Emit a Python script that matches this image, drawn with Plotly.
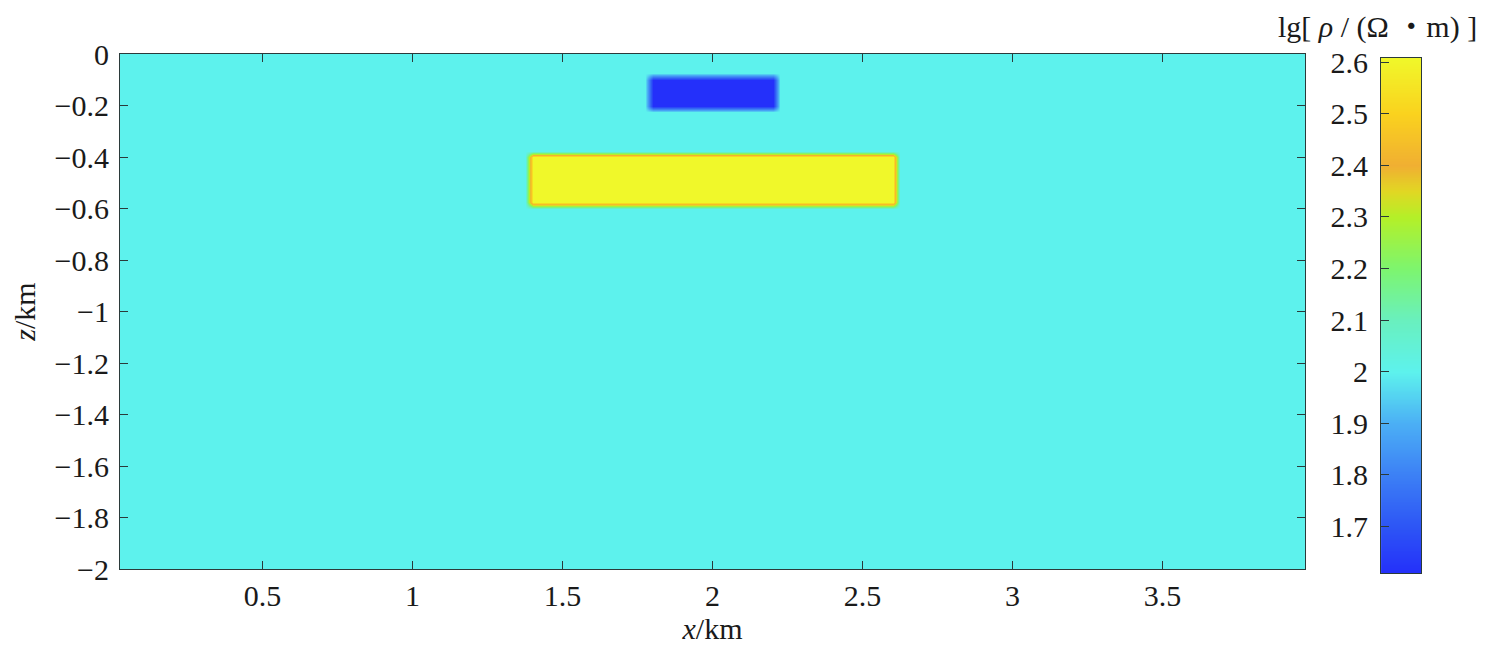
"""Resistivity model section: lg(rho) cross-section with two rectangular anomalies."""

import numpy as np
import plotly.graph_objects as go

# model grid (km)
x_nodes = np.round(np.arange(0.025, 3.9751, 0.025), 4)
z_nodes = np.round(np.arange(0.0, -2.0001, -0.025), 4)

# background and anomalies, lg(rho / ohm m)
background_lg_rho = 2.0
anomaly_names = ["low-resistivity block", "high-resistivity block"]
anomaly_x_left = [1.8, 1.4]
anomaly_x_right = [2.2, 2.6]
anomaly_z_top = [-0.1, -0.4]
anomaly_z_bottom = [-0.2, -0.575]
anomaly_lg_rho = [1.61, 2.61]

# colour scale range and ticks
cmin, cmax = 1.61, 2.61
colorbar_ticks = [1.7, 1.8, 1.9, 2.0, 2.1, 2.2, 2.3, 2.4, 2.5, 2.6]
x_ticks = [0.5, 1, 1.5, 2, 2.5, 3, 3.5]
z_ticks = [0, -0.2, -0.4, -0.6, -0.8, -1, -1.2, -1.4, -1.6, -1.8, -2]

# colour scale sampled from the figure's colour bar (value, colour)
cmap_values = [1.61, 1.70, 1.80, 1.90, 2.00, 2.10, 2.20, 2.30, 2.35, 2.40, 2.50, 2.61]
cmap_colors = [
    "rgb(36,48,250)", "rgb(45,85,245)", "rgb(60,128,245)", "rgb(75,175,245)",
    "rgb(93,242,237)", "rgb(105,240,190)", "rgb(125,245,110)", "rgb(180,240,40)",
    "rgb(225,215,35)", "rgb(240,175,50)", "rgb(250,210,30)", "rgb(240,248,42)",
]
colorscale = [[(v - cmin) / (cmax - cmin), c] for v, c in zip(cmap_values, cmap_colors)]

# build the model grid
XX, ZZ = np.meshgrid(x_nodes, z_nodes)
model = np.full(XX.shape, background_lg_rho)
eps = 1e-6
for x0, x1, zt, zb, val in zip(anomaly_x_left, anomaly_x_right, anomaly_z_top,
                                anomaly_z_bottom, anomaly_lg_rho):
    inside = (XX >= x0 - eps) & (XX <= x1 + eps) & (ZZ <= zt + eps) & (ZZ >= zb - eps)
    model[inside] = val

# colour-bar strip drawn on its own axis so its labels sit on the left
cb_levels = np.linspace(cmin, cmax, 201)

SERIF = "Liberation Serif"
CJK = "Noto Sans CJK SC"
DARK = "#2b3a3a"
FS = 30

fig = go.Figure()
fig.add_trace(go.Heatmap(
    x=x_nodes, y=z_nodes, z=model, zsmooth="best",
    colorscale=colorscale, zmin=cmin, zmax=cmax, showscale=False,
    xaxis="x", yaxis="y",
))
fig.add_trace(go.Heatmap(
    x=[0, 1], y=cb_levels, z=np.column_stack([cb_levels, cb_levels]), zsmooth="best",
    colorscale=colorscale, zmin=cmin, zmax=cmax, showscale=False,
    xaxis="x2", yaxis="y2", hoverinfo="skip",
))

axis_common = dict(
    showline=True, linecolor=DARK, linewidth=1.2, showgrid=False, zeroline=False,
    ticks="inside", tickcolor=DARK, ticklen=8, tickwidth=1.2, automargin=False,
    tickfont=dict(family=SERIF, size=FS, color="#1a1a1a"),
)

# the page body adds an 8 px margin, so the figure is 8 px smaller each way
fig.update_layout(
    width=1492, height=644,
    paper_bgcolor="white", plot_bgcolor="white",
    margin=dict(l=112, r=79, t=46, b=79),
    font=dict(family=SERIF, color="#1a1a1a"),
    xaxis=dict(
        **axis_common, domain=[0, 0.9109], range=[0.025, 3.975], mirror="ticks",
        tickvals=x_ticks, ticktext=[f"{v:g}" for v in x_ticks],
        title=dict(text="<i>x</i>/km", font=dict(family=SERIF, size=FS), standoff=4),
    ),
    yaxis=dict(
        **axis_common, domain=[0.0077, 1], range=[-2, 0], mirror="ticks",
        tickvals=z_ticks, ticktext=[f"{v:g}".replace("-", "\u2212") for v in z_ticks],
        title=dict(text="<i>z</i>/km", font=dict(family=SERIF, size=FS), standoff=24),
        ticklabelstandoff=4,
    ),
    xaxis2=dict(
        domain=[0.9693, 1], range=[0, 1], anchor="y2", automargin=False,
        showline=True, linecolor=DARK, linewidth=1.2, mirror=True,
        showticklabels=False, ticks="", showgrid=False, zeroline=False,
    ),
    yaxis2=dict(
        **axis_common, domain=[0, 0.9923], range=[cmin, cmin + (cmax - cmin) * 0.998],
        anchor="x2", side="left", mirror=True,
        tickvals=colorbar_ticks, ticktext=[f"{v:g}" for v in colorbar_ticks],
        ticklabelstandoff=6,
    ),
    annotations=[dict(
        text=("lg[ <i>ρ</i> / (Ω <span style='font-family:" + CJK
              + "'>・</span>m) ]"),
        xref="x2 domain", yref="paper",
        x=-0.1, y=1.0, yshift=30, showarrow=False, xanchor="center", yanchor="middle",
        font=dict(family=SERIF, size=FS, color="#1a1a1a"),
    )],
)

fig.write_html("out.html")
